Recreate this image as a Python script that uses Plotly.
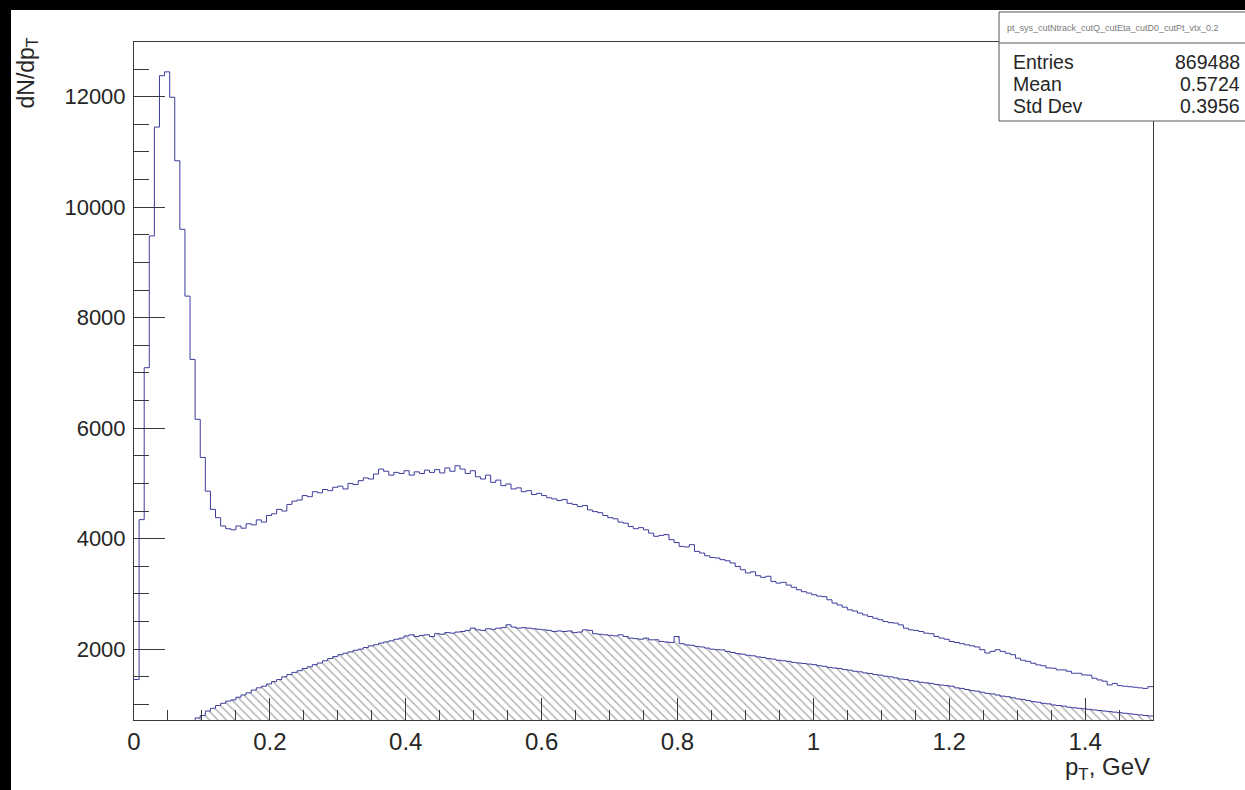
import plotly.graph_objects as go

# Histogram binning: 200 bins over 0 - 1.5 GeV
x_min = 0.0
x_max = 1.5
n_bins = 200
bin_width = (x_max - x_min) / n_bins

# All accepted tracks, dN/dpT per bin
all_tracks = [
    1450, 4345, 7095, 9480, 11450, 12380, 12450, 11990, 10840, 9600,
    8390, 7245, 6160, 5470, 4860, 4530, 4380, 4230, 4180, 4160,
    4230, 4190, 4270, 4250, 4340, 4300, 4420, 4450, 4530, 4500,
    4620, 4680, 4700, 4780, 4760, 4850, 4830, 4890, 4870, 4930,
    4950, 4900, 5000, 4980, 5050, 5100, 5080, 5170, 5260, 5220,
    5150, 5200, 5180, 5230, 5150, 5210, 5180, 5240, 5200, 5250,
    5190, 5280, 5220, 5320, 5260, 5180, 5230, 5120, 5080, 5150,
    5020, 5060, 4960, 4990, 4900, 4920, 4850, 4870, 4800, 4820,
    4780, 4740, 4720, 4690, 4710, 4640, 4620, 4580, 4600, 4520,
    4490, 4470, 4420, 4380, 4360, 4300, 4280, 4220, 4180, 4200,
    4160, 4100, 4043, 4060, 4073, 3982, 3930, 3861, 3850, 3891,
    3770, 3740, 3690, 3660, 3650, 3620, 3600, 3560, 3498, 3438,
    3380, 3400, 3330, 3300, 3320, 3226, 3196, 3210, 3160, 3120,
    3075, 3040, 3015, 2985, 2960, 2950, 2894, 2834, 2800, 2760,
    2713, 2690, 2653, 2620, 2592, 2560, 2532, 2500, 2480, 2472,
    2440, 2380, 2350, 2340, 2320, 2290, 2280, 2230, 2200, 2180,
    2139, 2120, 2100, 2079, 2060, 2040, 1990, 1930, 1960, 1990,
    1960, 1927, 1900, 1836, 1800, 1780, 1746, 1715, 1700, 1660,
    1655, 1625, 1625, 1600, 1564, 1564, 1534, 1530, 1474, 1443,
    1420, 1353, 1380, 1340, 1330, 1320, 1311, 1300, 1290, 1322,
]

# Tracks passing the selection (hatched)
selected_tracks = [
    0, 0, 0, 0, 0, 0, 0, 0, 0, 0,
    0, 0, 755, 800, 880, 930, 980, 1020, 1060, 1081,
    1130, 1171, 1210, 1260, 1300, 1330, 1370, 1413, 1450, 1500,
    1540, 1580, 1610, 1650, 1680, 1720, 1750, 1790, 1830, 1866,
    1900, 1927, 1950, 1980, 2000, 2030, 2060, 2080, 2110, 2130,
    2150, 2180, 2200, 2240, 2260, 2230, 2250, 2260, 2229, 2280,
    2270, 2300, 2290, 2310, 2320, 2340, 2381, 2350, 2340, 2370,
    2360, 2380, 2390, 2441, 2400, 2381, 2390, 2381, 2370, 2360,
    2350, 2340, 2320, 2330, 2320, 2330, 2300, 2310, 2350, 2340,
    2280, 2270, 2260, 2250, 2240, 2260, 2230, 2200, 2190, 2180,
    2200, 2169, 2170, 2140, 2130, 2120, 2229, 2100, 2078, 2070,
    2050, 2040, 2020, 2000, 1990, 1987, 1960, 1940, 1920, 1910,
    1890, 1880, 1860, 1850, 1830, 1820, 1800, 1790, 1780, 1760,
    1750, 1740, 1730, 1720, 1700, 1690, 1670, 1660, 1650, 1630,
    1620, 1600, 1590, 1570, 1560, 1540, 1530, 1510, 1500, 1480,
    1460, 1450, 1430, 1420, 1400, 1390, 1380, 1360, 1350, 1340,
    1330, 1300, 1290, 1270, 1250, 1240, 1220, 1200, 1190, 1170,
    1150, 1140, 1120, 1100, 1090, 1070, 1050, 1040, 1020, 1010,
    990, 980, 970, 950, 940, 930, 920, 910, 900, 890,
    880, 870, 860, 850, 840, 830, 820, 810, 800, 790,
]

# Axis labelling
x_tick_values = [0.0, 0.2, 0.4, 0.6, 0.8, 1.0, 1.2, 1.4]
x_tick_labels = ["0", "0.2", "0.4", "0.6", "0.8", "1", "1.2", "1.4"]
y_tick_values = [2000, 4000, 6000, 8000, 10000, 12000]
y_tick_labels = ["2000", "4000", "6000", "8000", "10000", "12000"]
y_range = [718, 12990]

# Statistics box contents
stats_title = "pt_sys_cutNtrack_cutQ_cutEta_cutD0_cutPt_vtx_0.2"
stats_rows = [("Entries", "869488"), ("Mean", "0.5724"), ("Std Dev", "0.3956")]

# Canvas geometry (pixels)
W, H = 1245, 790
L, R, T, B = 134, 1153, 42, 720


def fx(px):
    return (px - L) / (R - L)


def fy(py):
    return (B - py) / (B - T)


def step_xy(values):
    edges = [x_min + i * bin_width for i in range(n_bins + 1)]
    return edges, list(values) + [values[-1]]


FONT = "Liberation Sans, Arial, sans-serif"
TEXT = "#262626"
FRAME = "#3a3a3a"
LINE_BLUE = "#3c3c9e"

fig = go.Figure()

sx, sy = step_xy(selected_tracks)
fig.add_trace(go.Scatter(
    x=sx, y=sy, mode="lines", line=dict(shape="hv", color=LINE_BLUE, width=1),
    fill="tozeroy", fillcolor="rgba(0,0,0,0)",
    fillpattern=dict(shape="\\", fgcolor="#555555", bgcolor="white", size=6, solidity=0.22),
    hoverinfo="skip", showlegend=False,
))

ax, ay = step_xy(all_tracks)
fig.add_trace(go.Scatter(
    x=ax, y=ay, mode="lines", line=dict(shape="hv", color=LINE_BLUE, width=1),
    hoverinfo="skip", showlegend=False,
))

axis_common = dict(
    showline=True, linecolor=FRAME, linewidth=1, mirror=True,
    showgrid=False, zeroline=False, ticks="inside", tickcolor=FRAME,
    tickwidth=1,
)

fig.update_xaxes(
    range=[x_min, x_max], tickvals=x_tick_values, ticktext=x_tick_labels,
    ticklen=22, ticklabelstandoff=0,
    tickfont=dict(family=FONT, size=24, color=TEXT),
    minor=dict(ticks="inside", ticklen=10, tick0=0, dtick=0.05, tickcolor=FRAME),
    **axis_common,
)
fig.update_yaxes(
    range=y_range, tickvals=y_tick_values, ticktext=y_tick_labels,
    ticklen=31, ticklabelstandoff=3,
    tickfont=dict(family=FONT, size=22, color=TEXT),
    minor=dict(ticks="inside", ticklen=15, tick0=0, dtick=500, tickcolor=FRAME),
    **axis_common,
)

shapes = [
    # dark border along the left and top edges of the canvas
    dict(type="rect", xref="paper", yref="paper", x0=fx(0), x1=fx(11), y0=fy(H), y1=fy(0),
         fillcolor="black", line=dict(width=0), layer="above"),
    dict(type="rect", xref="paper", yref="paper", x0=fx(0), x1=fx(W), y0=fy(10), y1=fy(0),
         fillcolor="black", line=dict(width=0), layer="above"),
    # statistics box
    dict(type="rect", xref="paper", yref="paper", x0=fx(999), x1=fx(1260), y0=fy(121), y1=fy(12),
         fillcolor="white", line=dict(color="#555555", width=1), layer="above"),
    dict(type="line", xref="paper", yref="paper", x0=fx(999), x1=fx(1260), y0=fy(43), y1=fy(43),
         line=dict(color="#555555", width=1), layer="above"),
]

annotations = [
    dict(text=stats_title, xref="paper", yref="paper", x=fx(1005), y=fy(28),
         xanchor="left", yanchor="middle", showarrow=False,
         font=dict(family=FONT, size=9, color="#7a7a7a")),
    dict(text="dN/dp<sub>T</sub>", xref="paper", yref="paper", x=fx(27), y=fy(36),
         xanchor="center", yanchor="top", textangle=-90, showarrow=False,
         font=dict(family=FONT, size=23, color=TEXT)),
    dict(text="p<sub>T</sub>, GeV", xref="paper", yref="paper", x=fx(1152), y=fy(768),
         xanchor="right", yanchor="middle", showarrow=False,
         font=dict(family=FONT, size=24, color=TEXT)),
]
for i, (name, val) in enumerate(stats_rows):
    yc = 62 + 22 * i
    annotations.append(dict(text=name, xref="paper", yref="paper", x=fx(1012), y=fy(yc),
                            xanchor="left", yanchor="middle", showarrow=False, borderpad=0,
                            font=dict(family=FONT, size=19.5, color=TEXT)))
    annotations.append(dict(text=val, xref="paper", yref="paper", x=fx(1241), y=fy(yc),
                            xanchor="right", yanchor="middle", showarrow=False, borderpad=0,
                            font=dict(family=FONT, size=19.5, color=TEXT)))

fig.update_layout(
    width=W, height=H,
    margin=dict(l=L, r=W - R, t=T, b=H - B),
    paper_bgcolor="white", plot_bgcolor="white",
    shapes=shapes, annotations=annotations,
    showlegend=False,
)

fig.write_html("out.html", include_plotlyjs=True, full_html=True,
               config={"displayModeBar": False})
